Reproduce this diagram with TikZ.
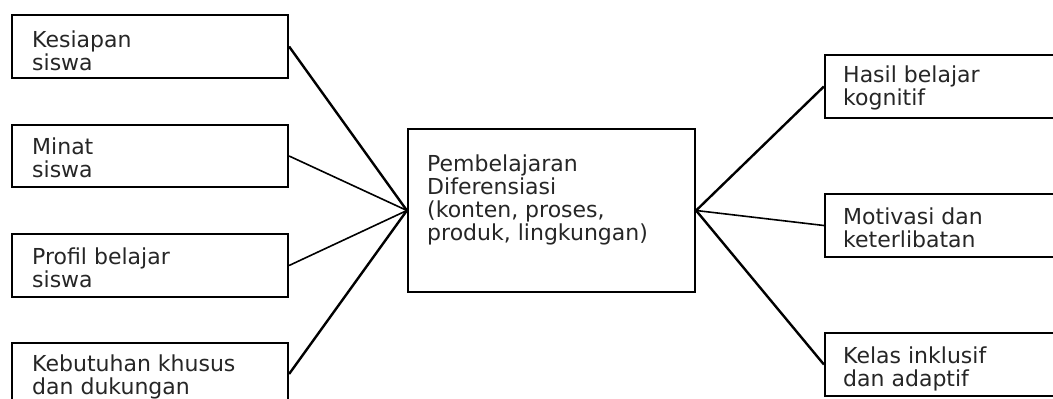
\documentclass[tikz,border=0pt]{standalone}
\usepackage{fontspec}
\setmainfont{DejaVu Sans}
\begin{document}
\begin{tikzpicture}[x=1pt,y=-1pt,
  box/.style={draw=black, line width=2.2pt, rectangle, inner sep=0pt},
  lbl/.style={anchor=base west, align=left, inner sep=0pt, font=\fontsize{22}{23}\selectfont, text=black!85},
  thickline/.style={draw=black, line width=2.4pt},
  thinline/.style={draw=black, line width=1.6pt}]
\clip (0,0) rectangle (1053,399);
\fill[white] (0,0) rectangle (1053,399);
% left boxes
\node[box, minimum width=276pt, minimum height=63pt] (l1) at (150,46.5) {};
\node[box, minimum width=276pt, minimum height=62pt] (l2) at (150,156) {};
\node[box, minimum width=276pt, minimum height=63pt] (l3) at (150,265.5) {};
\node[box, minimum width=276pt, minimum height=62pt] (l4) at (150,374) {};
% center box
\node[box, minimum width=287pt, minimum height=163pt] (c) at (551.5,210.5) {};
% right boxes
\node[box, minimum width=275pt, minimum height=63pt] (r1) at (962.5,86.5) {};
\node[box, minimum width=275pt, minimum height=63pt] (r2) at (962.5,225.5) {};
\node[box, minimum width=275pt, minimum height=63pt] (r3) at (962.5,364.5) {};
% texts (base anchor = baseline of last line)
\node[lbl] (t1) at (32,70) {Kesiapan\\siswa};
\node[lbl] (t2) at (32,177) {Minat\\siswa};
\node[lbl] (t3) at (32,287) {Profil belajar\\siswa};
\node[lbl] (t4) at (32,394) {Kebutuhan khusus\\dan dukungan};
\node[lbl] (tc) at (427,240) {Pembelajaran\\Diferensiasi\\(konten, proses,\\produk, lingkungan)};
\node[lbl] (tr1) at (843,105) {Hasil belajar\\kognitif};
\node[lbl] (tr2) at (843,247) {Motivasi dan\\keterlibatan};
\node[lbl] (tr3) at (843,386) {Kelas inklusif\\dan adaptif};
% connectors
\draw[thickline] (l1.east) -- (c.west);
\draw[thinline] (l2.east) -- (c.west);
\draw[thinline] (l3.east) -- (c.west);
\draw[thickline] (l4.east) -- (c.west);
\draw[thickline] (c.east) -- (r1.west);
\draw[thinline] (c.east) -- (r2.west);
\draw[thickline] (c.east) -- (r3.west);
\end{tikzpicture}
\end{document}
